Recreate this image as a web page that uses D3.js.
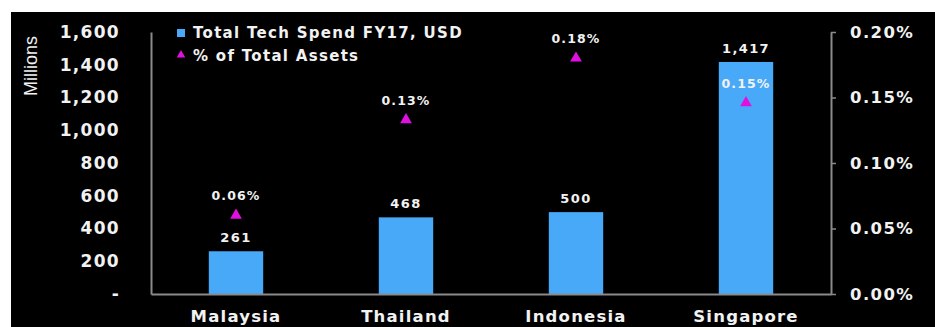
<!DOCTYPE html>
<html><head><meta charset="utf-8">
<script src="https://cdn.jsdelivr.net/npm/d3@7"></script>
<style>
html,body{margin:0;padding:0;background:#fff;}
svg{display:block;}
text{font-family:"DejaVu Sans",Verdana,sans-serif;font-weight:bold;fill:#f2f2f2;}
</style></head>
<body>
<svg id="chart" width="935" height="327"></svg>
<script>
const categories = ["Malaysia", "Thailand", "Indonesia", "Singapore"];
const techSpend = [261, 468, 500, 1417];          // USD millions
const pctAssets = [0.06, 0.133, 0.18, 0.146];     // % of total assets
const leftTicks = [0, 200, 400, 600, 800, 1000, 1200, 1400, 1600];
const rightTicks = [0, 0.05, 0.10, 0.15, 0.20];
const seriesNames = ["Total Tech Spend FY17, USD", "% of Total Assets"];

const svg = d3.select("#chart");
svg.append("rect").attr("x", 11).attr("y", 12).attr("width", 924).attr("height", 315).attr("fill", "#000");

const m = {left: 151, right: 831, top: 32, bottom: 294};
const x = d3.scaleBand().domain(categories).range([m.left, m.right]).paddingInner(0.68).paddingOuter(0.34);
const yL = d3.scaleLinear().domain([0, 1600]).range([m.bottom, m.top]);
const yR = d3.scaleLinear().domain([0, 0.20]).range([m.bottom, m.top]);

const barColor = "#48a9f8", triColor = "#e010e0", axisColor = "#8a8a8a";
const FONT = '"DejaVu Sans",Verdana,sans-serif';

// bars
svg.selectAll(".bar").data(categories).join("rect")
  .attr("x", d => x(d)).attr("width", x.bandwidth())
  .attr("y", (d, i) => yL(techSpend[i])).attr("height", (d, i) => yL(0) - yL(techSpend[i]))
  .attr("fill", barColor);

// axes
const gL = svg.append("g").attr("transform", `translate(${m.left},0)`)
  .call(d3.axisLeft(yL).tickValues(leftTicks).tickSize(0).tickPadding(31)
    .tickFormat(d => d === 0 ? "-" : d3.format(",")(d)));
gL.select(".domain").attr("stroke", axisColor).attr("stroke-width", 2);
gL.selectAll("text").attr("font-size", 17).attr("letter-spacing", 1.3).attr("fill", "#f2f2f2")
  .style("font-family", FONT).style("font-weight", "bold");

const gR = svg.append("g").attr("transform", `translate(${m.right},0)`)
  .call(d3.axisRight(yR).tickValues(rightTicks).tickSize(5).tickSizeOuter(0).tickPadding(14)
    .tickFormat(d => d.toFixed(2) + "%"));
gR.select(".domain").attr("stroke", axisColor).attr("stroke-width", 2);
gR.selectAll("line").attr("stroke", axisColor).attr("stroke-width", 1.5);
gR.selectAll("text").attr("font-size", 16.5).attr("letter-spacing", 1.4).attr("fill", "#f2f2f2")
  .style("font-family", FONT).style("font-weight", "bold");

const gB = svg.append("g").attr("transform", `translate(0,${m.bottom})`)
  .call(d3.axisBottom(x).tickSize(0).tickPadding(16));
gB.select(".domain").attr("stroke", axisColor).attr("stroke-width", 2);
gB.selectAll("text").attr("font-size", 16.5).attr("letter-spacing", 1.2).attr("fill", "#f2f2f2")
  .style("font-family", FONT).style("font-weight", "bold");

// bar labels
svg.selectAll(".blab").data(categories).join("text")
  .attr("x", d => x(d) + x.bandwidth() / 2)
  .attr("y", (d, i) => yL(techSpend[i]) - 9)
  .attr("text-anchor", "middle").attr("font-size", 13).attr("letter-spacing", 1.4)
  .text((d, i) => d3.format(",")(techSpend[i]));

// triangles
const tri = d3.symbol().type(d3.symbolTriangle).size(60);
svg.selectAll(".tri").data(categories).join("path")
  .attr("d", tri)
  .attr("transform", (d, i) => `translate(${x(d) + x.bandwidth() / 2},${yR(pctAssets[i])})`)
  .attr("fill", triColor);
svg.selectAll(".tlab").data(categories).join("text")
  .attr("x", d => x(d) + x.bandwidth() / 2)
  .attr("y", (d, i) => yR(pctAssets[i]) - 15)
  .attr("text-anchor", "middle").attr("font-size", 12.5).attr("letter-spacing", 1.1)
  .text((d, i) => pctAssets[i].toFixed(2) + "%");

// y title
svg.append("text").attr("transform", "translate(37,66) rotate(-90)")
  .attr("text-anchor", "middle").attr("font-size", 18)
  .style("font-family", '"Liberation Sans",Arial,sans-serif')
  .style("font-weight", "normal").attr("fill", "#bdbdbd").text("Millions");

// legend
const lg = svg.append("g");
lg.append("rect").attr("x", 177).attr("y", 29).attr("width", 8).attr("height", 8).attr("fill", barColor);
lg.append("path").attr("d", d3.symbol().type(d3.symbolTriangle).size(32))
  .attr("transform", "translate(181,55)").attr("fill", triColor);
lg.selectAll(".ltxt").data(seriesNames).join("text")
  .attr("x", 193).attr("y", (d, i) => 38 + i * 23)
  .attr("font-size", 15).attr("letter-spacing", 1.3)
  .text(d => d);
</script>
</body></html>
